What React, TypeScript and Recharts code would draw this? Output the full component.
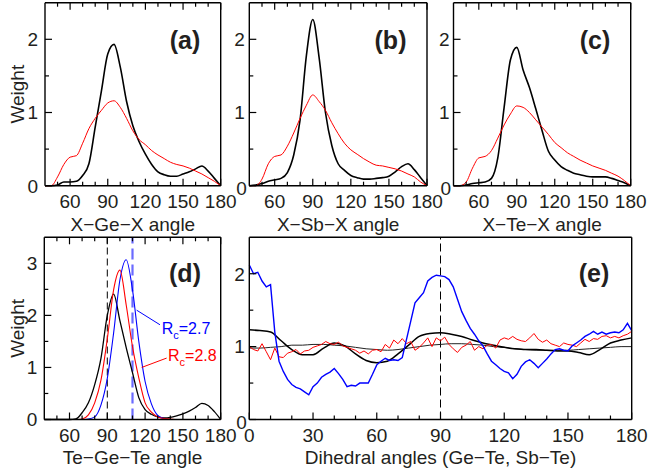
import { LineChart, Line, XAxis, YAxis, ReferenceLine } from "recharts"

const W = 648
const H = 472
const FONT = '"Liberation Sans", Arial, Helvetica, sans-serif'
const INK = "#231f20"

// bond angle grid for panels (a)-(d)
const bondAngles = [40, 45, 50, 55, 60, 65, 70, 75, 80, 85, 90, 95, 100, 105, 110, 115, 120, 125, 130, 135, 140, 145, 150, 155, 160, 165, 170, 175, 180]
const bondTicks = [50, 60, 70, 80, 90, 100, 110, 120, 130, 140, 150, 160, 170, 180]
const bondLabels = [60, 90, 120, 150, 180]

// (a) X-Ge-X
const geBlack = [0, 0, 0.01, 0.05, 0.05, 0.06, 0.14, 0.3, 0.8, 1.3, 1.8, 1.93, 1.62, 1.15, 0.82, 0.6, 0.43, 0.29, 0.19, 0.15, 0.13, 0.13, 0.16, 0.19, 0.23, 0.27, 0.2, 0.1, 0]
const geRed = [0, 0, 0.12, 0.29, 0.39, 0.41, 0.58, 0.78, 0.92, 1.03, 1.13, 1.16, 1.07, 0.92, 0.75, 0.63, 0.56, 0.48, 0.42, 0.37, 0.32, 0.29, 0.27, 0.24, 0.2, 0.16, 0.11, 0.06, 0]

// (b) X-Sb-X
const sbBlack = [0, 0.01, 0.03, 0.06, 0.08, 0.1, 0.18, 0.42, 0.9, 1.78, 2.27, 1.75, 1.0, 0.55, 0.3, 0.21, 0.14, 0.11, 0.09, 0.09, 0.1, 0.11, 0.13, 0.19, 0.26, 0.3, 0.22, 0.11, 0]
const sbRed = [0, 0, 0.09, 0.3, 0.4, 0.42, 0.54, 0.72, 0.92, 1.1, 1.24, 1.15, 1.03, 0.86, 0.71, 0.58, 0.49, 0.43, 0.37, 0.32, 0.28, 0.27, 0.25, 0.23, 0.2, 0.16, 0.12, 0.05, 0]

// (c) X-Te-X
const teBlack = [0, 0, 0.01, 0.03, 0.04, 0.05, 0.1, 0.38, 1.07, 1.72, 1.89, 1.58, 1.34, 1.05, 0.75, 0.47, 0.35, 0.26, 0.21, 0.17, 0.15, 0.13, 0.12, 0.12, 0.12, 0.1, 0.07, 0.04, 0]
const teRed = [0, 0, 0.05, 0.24, 0.38, 0.4, 0.48, 0.65, 0.83, 0.98, 1.09, 1.07, 1.0, 0.9, 0.8, 0.7, 0.59, 0.52, 0.45, 0.4, 0.35, 0.31, 0.27, 0.24, 0.21, 0.17, 0.13, 0.07, 0]

// (d) Te-Ge-Te for different cutoffs
const tgtBlack = [0, 0, 0, 0, 0, 0.01, 0.13, 0.32, 0.67, 1.18, 2.0, 2.41, 1.9, 1.38, 0.9, 0.42, 0.19, 0.1, 0.05, 0.03, 0.04, 0.07, 0.11, 0.16, 0.23, 0.31, 0.27, 0.15, 0]
const tgtRc28 = [0, 0, 0, 0, 0, 0, 0.01, 0.09, 0.32, 0.76, 1.55, 2.49, 2.87, 2.2, 1.4, 0.8, 0.32, 0.14, 0.05, 0.02, 0.01, 0, 0, 0, 0, 0, 0, 0, 0]
const tgtRc27 = [0, 0, 0, 0, 0, 0, 0, 0.01, 0.05, 0.28, 0.79, 1.66, 2.68, 3.07, 2.49, 1.5, 0.73, 0.3, 0.08, 0.02, 0, 0, 0, 0, 0, 0, 0, 0, 0]

// (e) dihedral angles
const dihedralFine = [0, 2, 4, 6, 8, 10, 12, 14, 16, 18, 20, 22, 24, 26, 28, 30, 32, 34, 36, 38, 40, 42, 44, 46, 48, 50, 52, 54, 56, 58, 60, 62, 64, 66, 68, 70, 72, 74, 76, 78, 80, 82, 84, 86, 88, 90, 92, 94, 96, 98, 100, 102, 104, 106, 108, 110, 112, 114, 116, 118, 120, 122, 124, 126, 128, 130, 132, 134, 136, 138, 140, 142, 144, 146, 148, 150, 152, 154, 156, 158, 160, 162, 164, 166, 168, 170, 172, 174, 176, 178, 180]
const dihBlue = [
  2.12, 2.0, 2.02, 1.9, 1.82, 1.85, 1.2, 0.8, 0.66, 0.55,
  0.48, 0.44, 0.42, 0.38, 0.34, 0.45, 0.5, 0.58, 0.62, 0.65,
  0.7, 0.63, 0.55, 0.45, 0.47, 0.46, 0.5, 0.5, 0.5, 0.62,
  0.75, 0.8, 0.84, 0.81, 0.82, 0.81, 0.85, 1.1, 1.35, 1.6,
  1.67, 1.74, 1.9, 1.95, 1.98, 1.97, 1.96, 1.92, 1.82, 1.65,
  1.48, 1.36, 1.25, 1.17, 1.08, 1.01, 0.9, 0.8, 0.75, 0.7,
  0.66, 0.64, 0.56, 0.62, 0.73, 0.79, 0.82, 0.77, 0.71, 0.77,
  0.83, 0.9, 0.96, 0.97, 0.95, 0.94, 1.01, 1.05, 1.09, 1.14,
  1.17, 1.21, 1.17, 1.2, 1.17, 1.19, 1.2, 1.19, 1.23, 1.32,
  1.22,
]
const dihRed = [
  1.0, 0.96, 0.94, 1.04, 0.93, 0.82, 0.98, 0.86, 0.85, 0.91,
  0.93, 0.96, 0.9, 0.94, 0.95, 0.99, 1.01, 1.03, 1.07, 1.04,
  1.03, 1.06, 1.01, 0.99, 0.97, 0.95, 0.91, 0.94, 0.9, 0.95,
  0.96, 0.93, 1.03, 0.98, 1.09, 1.04, 1.11, 1.04, 1.07, 0.95,
  0.99, 1.05, 1.12, 1.0, 1.12, 1.08, 1.13, 1.03, 0.97, 0.92,
  0.99, 1.02, 1.07, 0.95, 1.0, 0.97, 1.02, 1.03, 0.98, 1.09,
  1.12, 1.1, 1.14, 1.1, 1.08, 1.07, 1.12, 1.18, 1.1, 1.06,
  1.09, 1.04, 1.02, 1.0, 1.05, 1.03, 1.02, 1.0, 1.05, 1.1,
  1.07, 1.11, 1.1, 1.14, 1.15, 1.12, 1.14, 1.12, 1.15, 1.17,
  1.21,
]
const dihedralCoarse = [0, 5, 10, 15, 20, 25, 30, 35, 40, 45, 50, 55, 60, 65, 70, 75, 80, 85, 90, 95, 100, 105, 110, 115, 120, 125, 130, 135, 140, 145, 150, 155, 160, 165, 170, 175, 180]
const dihBlackThick = [1.23, 1.22, 1.2, 1.08, 0.96, 0.89, 0.89, 0.98, 1.05, 1.01, 0.9, 0.81, 0.78, 0.8, 0.9, 1.02, 1.14, 1.18, 1.19, 1.17, 1.14, 1.09, 1.05, 1.02, 0.99, 0.97, 0.96, 0.96, 0.95, 0.94, 0.94, 0.92, 0.89, 0.96, 1.05, 1.09, 1.12]
const dihBlackThin = [0.98, 0.98, 0.99, 1.0, 1.02, 1.02, 1.03, 1.03, 1.02, 1.01, 0.99, 0.97, 0.96, 0.95, 0.96, 0.98, 1.0, 1.02, 1.03, 1.04, 1.04, 1.03, 1.02, 1.0, 0.99, 0.97, 0.96, 0.95, 0.95, 0.95, 0.95, 0.96, 0.97, 0.98, 0.99, 1.0, 1.0]
const dihedralTicks = [0, 10, 20, 30, 40, 50, 60, 70, 80, 90, 100, 110, 120, 130, 140, 150, 160, 170, 180]
const dihedralLabels = [0, 30, 60, 90, 120, 150, 180]

const weightTicks = [0, 0.5, 1, 1.5, 2]
const weightTicksD = [0, 0.5, 1, 1.5, 2, 2.5, 3]

const pair = (xs: number[], a: number[], b: number[], c?: number[]) =>
  xs.map((x, i) => ({ x, black: a[i], red: b[i], blue: c ? c[i] : undefined }))
const series = (xs: number[], ys: number[]) => xs.map((x, i) => ({ x, y: ys[i] }))

const axisLine = { stroke: "#000", strokeWidth: 1.4 }

// axes are 1px thick strips (recharts skips axes of zero size); ticks point into the frame
const xTick = (side: "bottom" | "top", labels: number[]) => (p: any) => {
  const v = p.payload.value
  const major = labels.includes(v)
  const len = major ? 7 : 4
  const dir = side === "bottom" ? -1 : 1
  return (
    <g>
      <line x1={p.x} x2={p.x} y1={p.y} y2={p.y + dir * len} stroke="#000" strokeWidth={1.2} />
      {side === "bottom" && major && (
        <text x={p.x} y={p.y + 22.5} textAnchor="middle" fontSize={19} fontFamily={FONT} fill={INK}>
          {v}
        </text>
      )}
    </g>
  )
}

// the "0" of panels b, c, e sits a little low and tight to the frame, as in the original
const yTick = (side: "left" | "right", labels: number[], gap: number, zeroDrop: number) => (p: any) => {
  const v = p.payload.value
  const major = labels.includes(v)
  const len = major ? 7 : 4
  const dir = side === "left" ? 1 : -1
  const low = v === 0 && zeroDrop > 0
  return (
    <g>
      <line x1={p.x} x2={p.x + dir * len} y1={p.y} y2={p.y} stroke="#000" strokeWidth={1.2} />
      {side === "left" && major && (
        <text x={p.x - (low ? 2.5 : gap)} y={p.y + 6.8 + (low ? zeroDrop : 0)} textAnchor="end" fontSize={19} fontFamily={FONT} fill={INK}>
          {v}
        </text>
      )}
    </g>
  )
}

type Box = { left: number; top: number; right: number; bottom: number }

function Panel(props: {
  box: Box
  data?: any[]
  xDomain: number[]
  xTicks: number[]
  xLabels: number[]
  yDomain: number[]
  yTicks: number[]
  yLabels: number[]
  xTitle: string
  yTitle?: string
  gap: number
  zeroDrop: number
  children: any
}) {
  const { box } = props
  return (
    <div style={{ position: "absolute", left: 0, top: 0 }}>
      <LineChart
        width={W}
        height={H}
        data={props.data}
        margin={{ top: box.top - 1, left: box.left - 1, right: W - box.right - 1, bottom: H - box.bottom - 1 }}
      >
        <XAxis
          dataKey="x"
          type="number"
          domain={props.xDomain}
          ticks={props.xTicks}
          interval={0}
          height={1}
          tickSize={0}
          tickMargin={0}
          tickLine={false}
          axisLine={axisLine}
          tick={xTick("bottom", props.xLabels)}
          label={{ value: props.xTitle, position: "bottom", offset: 30.5, fontSize: 19, fontFamily: FONT, fill: INK }}
        />
        <XAxis
          xAxisId="top"
          orientation="top"
          dataKey="x"
          type="number"
          domain={props.xDomain}
          ticks={props.xTicks}
          interval={0}
          height={1}
          tickSize={0}
          tickMargin={0}
          tickLine={false}
          axisLine={axisLine}
          tick={xTick("top", props.xLabels)}
        />
        <YAxis
          type="number"
          domain={props.yDomain}
          ticks={props.yTicks}
          interval={0}
          width={1}
          tickSize={0}
          tickMargin={0}
          tickLine={false}
          axisLine={axisLine}
          tick={yTick("left", props.yLabels, props.gap, props.zeroDrop)}
          label={
            props.yTitle
              ? { value: props.yTitle, position: "left", angle: -90, offset: 26.5, fontSize: 19, fontFamily: FONT, fill: INK, style: { textAnchor: "middle" } }
              : undefined
          }
        />
        <YAxis
          yAxisId="right"
          orientation="right"
          type="number"
          domain={props.yDomain}
          ticks={props.yTicks}
          interval={0}
          width={1}
          tickSize={0}
          tickMargin={0}
          tickLine={false}
          axisLine={axisLine}
          tick={yTick("right", props.yLabels, props.gap, props.zeroDrop)}
        />
        {props.children}
      </LineChart>
    </div>
  )
}

function Tag(props: { x: number; base: number; size: number; color: string; bold?: boolean; center?: boolean; children: any }) {
  return (
    <div
      style={{
        position: "absolute",
        left: props.x,
        top: props.base - 0.8465 * props.size,
        fontSize: props.size,
        lineHeight: 1,
        fontFamily: FONT,
        fontWeight: props.bold ? 700 : 400,
        color: props.color,
        whiteSpace: "nowrap",
        transform: props.center ? "translateX(-50%)" : undefined,
      }}
    >
      {props.children}
    </div>
  )
}

export default function App() {
  const top: Box[] = [
    { left: 45, top: 2.7, right: 220.7, bottom: 185.7 },
    { left: 249.3, top: 2.7, right: 427, bottom: 185.7 },
    { left: 453.5, top: 2.7, right: 630.7, bottom: 185.7 },
  ]
  const topPanels = [
    { data: pair(bondAngles, geBlack, geRed), title: "X\u2212Ge\u2212X angle", yTitle: "Weight", gap: 7, drop: 0 },
    { data: pair(bondAngles, sbBlack, sbRed), title: "X\u2212Sb\u2212X angle", gap: 4.5, drop: 2.5 },
    { data: pair(bondAngles, teBlack, teRed), title: "X\u2212Te\u2212X angle", gap: 4, drop: 2.5 },
  ]
  return (
    <div style={{ position: "absolute", left: 0, top: 0, width: W, height: H, background: "#fff", overflow: "hidden" }}>
      {topPanels.map((p, i) => (
        <Panel
          key={i}
          box={top[i]}
          data={p.data}
          xDomain={[40, 180]}
          xTicks={bondTicks}
          xLabels={bondLabels}
          yDomain={[0, 2.5]}
          yTicks={weightTicks}
          yLabels={[0, 1, 2]}
          xTitle={p.title}
          yTitle={p.yTitle}
          gap={p.gap}
          zeroDrop={p.drop}
        >
          <Line type="monotone" dataKey="black" stroke="#000" strokeWidth={1.6} dot={false} isAnimationActive={false} />
          <Line type="monotone" dataKey="red" stroke="#ff0000" strokeWidth={1} dot={false} isAnimationActive={false} />
        </Panel>
      ))}

      <Panel
        box={{ left: 44.3, top: 237.3, right: 220.7, bottom: 419.5 }}
        data={pair(bondAngles, tgtBlack, tgtRc28, tgtRc27)}
        xDomain={[40, 180]}
        xTicks={bondTicks}
        xLabels={bondLabels}
        yDomain={[0, 3.5]}
        yTicks={weightTicksD}
        yLabels={[0, 1, 2, 3]}
        xTitle={"Te\u2212Ge\u2212Te angle"}
        yTitle="Weight"
        gap={7}
        zeroDrop={0}
      >
        <ReferenceLine x={90} stroke="#000" strokeWidth={1} strokeDasharray="7 4" />
        <ReferenceLine x={110} stroke="#6b6bff" strokeWidth={2.2} strokeDasharray="11 5" />
        <Line type="monotone" dataKey="black" stroke="#000" strokeWidth={1.3} dot={false} isAnimationActive={false} />
        <Line type="monotone" dataKey="blue" stroke="#0000ff" strokeWidth={1.1} dot={false} isAnimationActive={false} />
        <Line type="monotone" dataKey="red" stroke="#ff0000" strokeWidth={1.1} dot={false} isAnimationActive={false} />
        <ReferenceLine segment={[{ x: 113.3, y: 2.1 }, { x: 131.8, y: 1.82 }]} stroke="#0000ff" strokeWidth={1} />
        <ReferenceLine segment={[{ x: 117.3, y: 1.0 }, { x: 137.1, y: 1.18 }]} stroke="#ff0000" strokeWidth={1} />
      </Panel>

      <Panel
        box={{ left: 249.3, top: 237.3, right: 631.7, bottom: 419.5 }}
        xDomain={[0, 180]}
        xTicks={dihedralTicks}
        xLabels={dihedralLabels}
        yDomain={[0, 2.5]}
        yTicks={weightTicks}
        yLabels={[0, 1, 2]}
        xTitle={"Dihedral angles (Ge\u2212Te, Sb\u2212Te)"}
        gap={4.5}
        zeroDrop={2.5}
      >
        <ReferenceLine x={90} stroke="#000" strokeWidth={1} strokeDasharray="8 4" />
        <Line data={series(dihedralCoarse, dihBlackThin)} type="monotone" dataKey="y" stroke="#222" strokeWidth={1} dot={false} isAnimationActive={false} />
        <Line data={series(dihedralCoarse, dihBlackThick)} type="monotone" dataKey="y" stroke="#000" strokeWidth={1.5} dot={false} isAnimationActive={false} />
        <Line data={series(dihedralFine, dihRed)} type="linear" dataKey="y" stroke="#ff0000" strokeWidth={1} dot={false} isAnimationActive={false} />
        <Line data={series(dihedralFine, dihBlue)} type="linear" dataKey="y" stroke="#0000ff" strokeWidth={1.4} dot={false} isAnimationActive={false} />
      </Panel>

      <Tag x={185} base={49} size={25} color={INK} bold center>(a)</Tag>
      <Tag x={390.5} base={49} size={25} color={INK} bold center>(b)</Tag>
      <Tag x={595} base={49} size={25} color={INK} bold center>(c)</Tag>
      <Tag x={185} base={282} size={25} color={INK} bold center>(d)</Tag>
      <Tag x={594} base={282} size={25} color={INK} bold center>(e)</Tag>
      <Tag x={161.7} base={334.5} size={16} color="#0000ff">
        R<span style={{ fontSize: 11, position: "relative", top: 5 }}>c</span>=2.7
      </Tag>
      <Tag x={168} base={361.7} size={16} color="#ff0000">
        R<span style={{ fontSize: 11, position: "relative", top: 5 }}>c</span>=2.8
      </Tag>
    </div>
  )
}
